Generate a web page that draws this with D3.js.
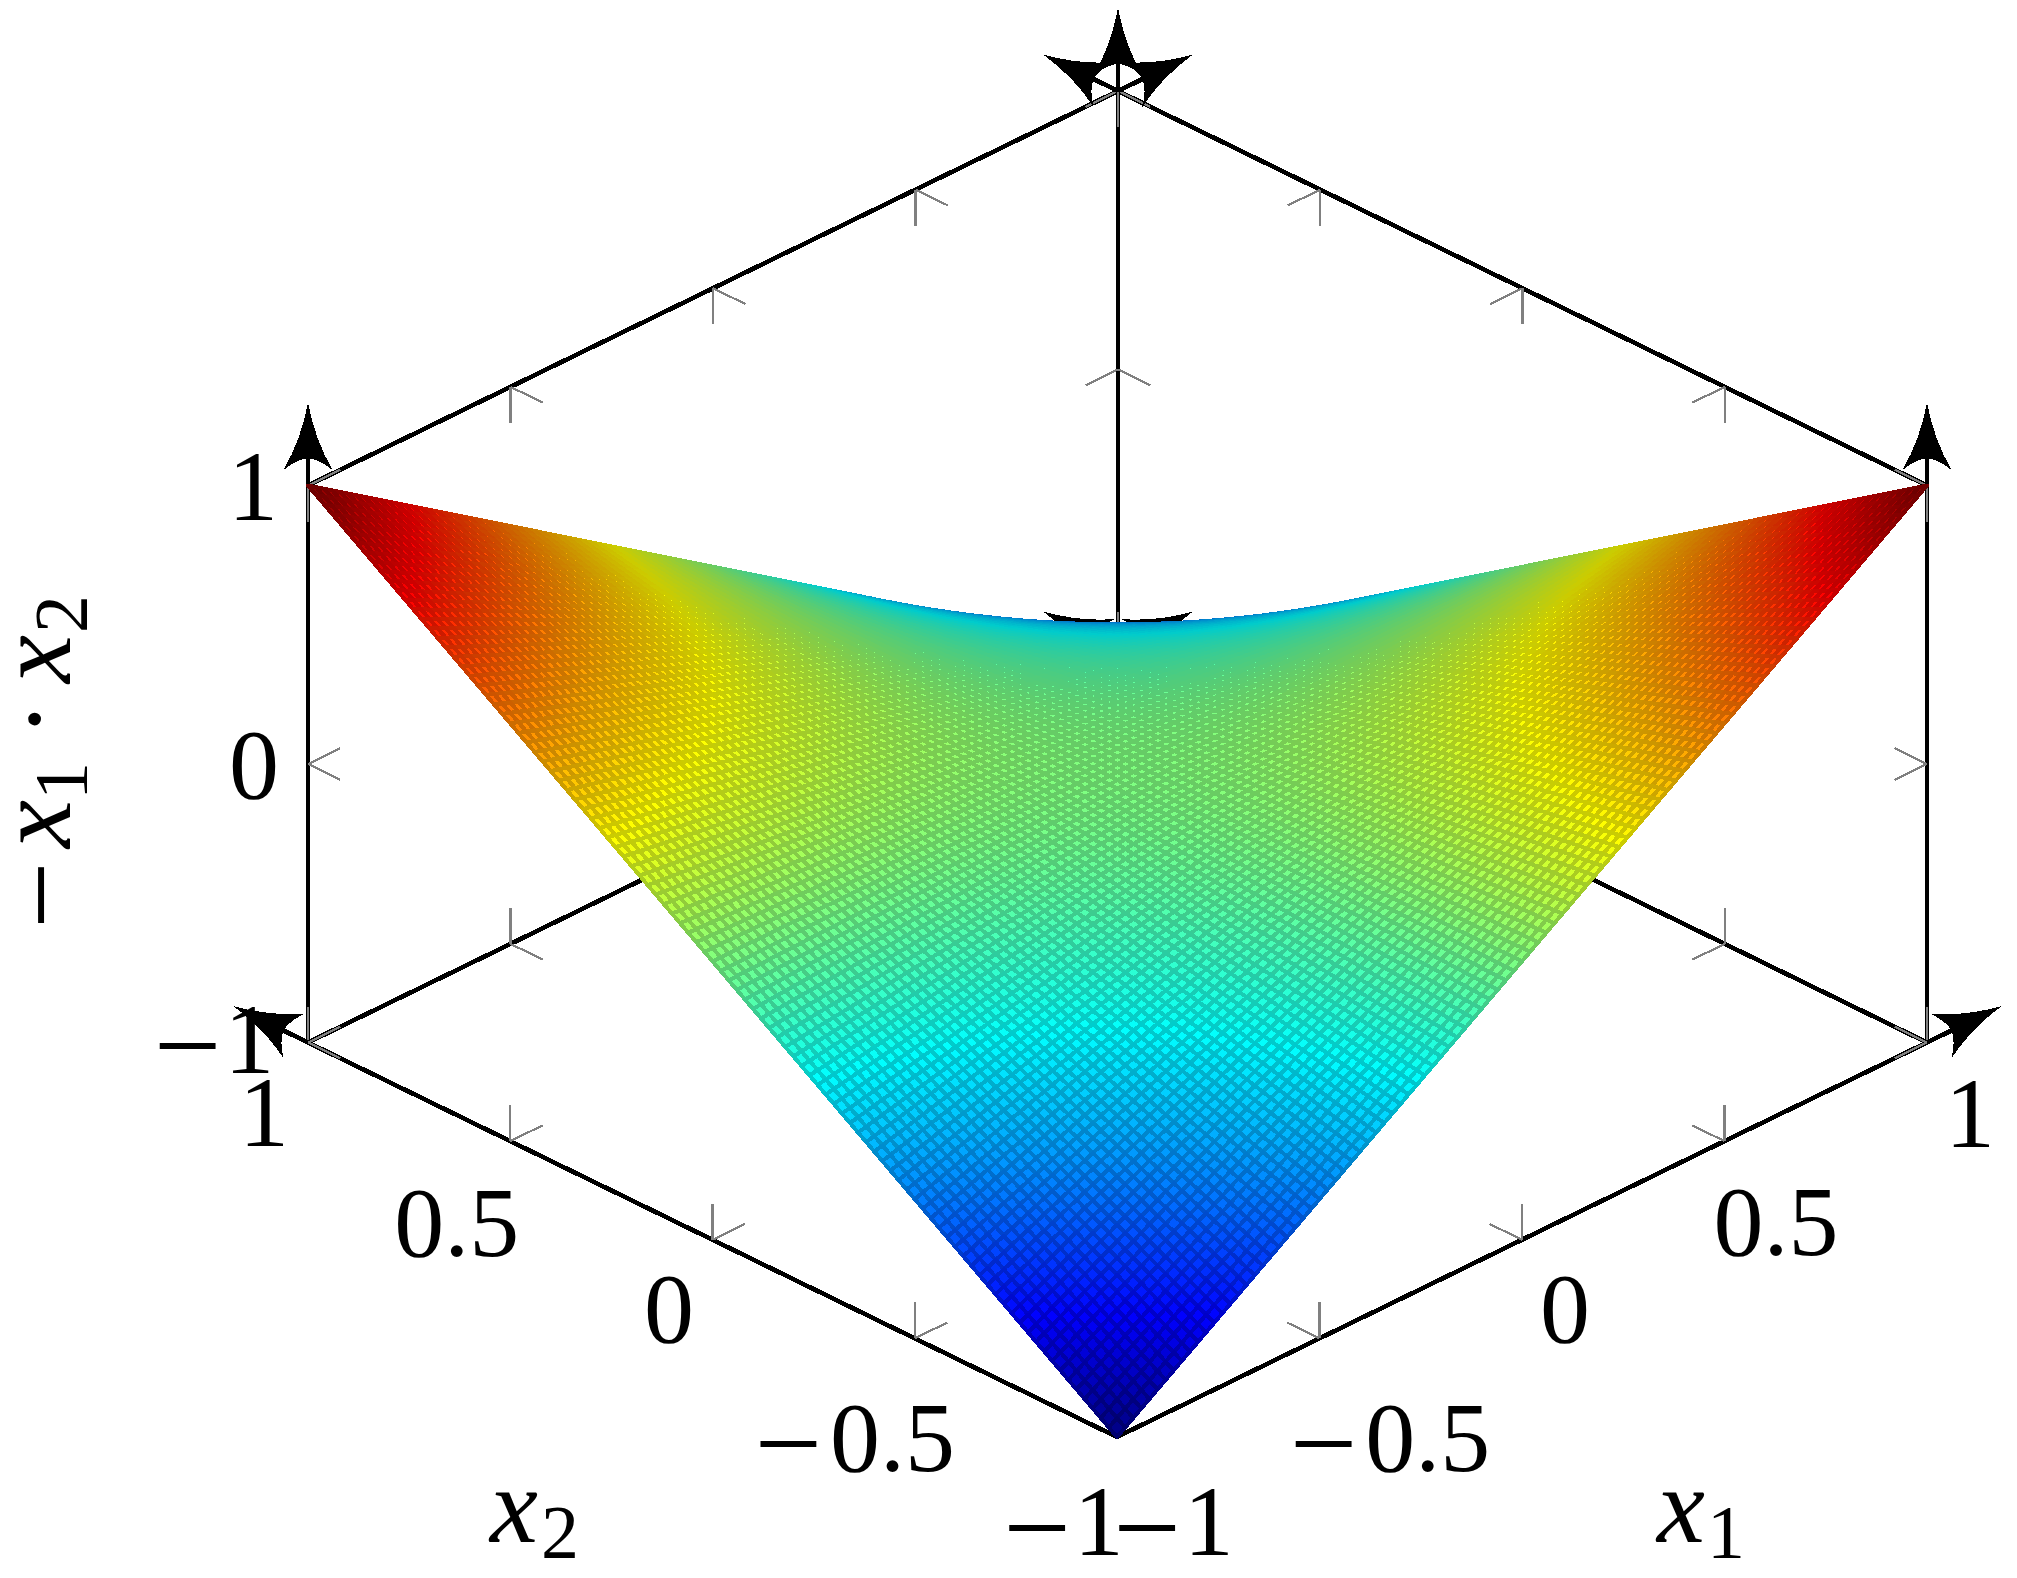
<!DOCTYPE html>
<html>
<head>
<meta charset="utf-8">
<script src="https://cdnjs.cloudflare.com/ajax/libs/d3/7.8.5/d3.min.js"></script>
<style>
html,body{margin:0;padding:0;background:#fff;}
svg{display:block;}
text{font-family:"Liberation Serif",serif;fill:#000;}
</style>
</head>
<body>
<script>
// Sample positions of the plotted surface on each axis (101 samples).
const gridSamples = [-1,-0.98,-0.96,-0.94,-0.92,-0.9,-0.88,-0.86,-0.84,-0.82,-0.8,-0.78,-0.76,-0.74,-0.72,-0.7,-0.68,-0.66,-0.64,-0.62,-0.6,-0.58,-0.56,-0.54,-0.52,-0.5,-0.48,-0.46,-0.44,-0.42,-0.4,-0.38,-0.36,-0.34,-0.32,-0.3,-0.28,-0.26,-0.24,-0.22,-0.2,-0.18,-0.16,-0.14,-0.12,-0.1,-0.08,-0.06,-0.04,-0.02,0,0.02,0.04,0.06,0.08,0.1,0.12,0.14,0.16,0.18,0.2,0.22,0.24,0.26,0.28,0.3,0.32,0.34,0.36,0.38,0.4,0.42,0.44,0.46,0.48,0.5,0.52,0.54,0.56,0.58,0.6,0.62,0.64,0.66,0.68,0.7,0.72,0.74,0.76,0.78,0.8,0.82,0.84,0.86,0.88,0.9,0.92,0.94,0.96,0.98,1];
const x1Ticks = [-1,-0.5,0,0.5,1];
const x2Ticks = [-1,-0.5,0,0.5,1];
const zTicks = [-1,0,1];
const x1Labels = ["\u22121","\u22120.5","0","0.5","1"];
const x2Labels = ["\u22121","\u22120.5","0","0.5","1"];
const zLabels = ["\u22121","0","1"];
const jetStops = [-1,-0.75,-0.25,0.25,0.75,1];
const jetColors = ["#000080","#0000ff","#00ffff","#ffff00","#ff0000","#800000"];
// The surface is the function named by the vertical axis title, -x1*x2.
const surfaceZ = (a,b) => -a*b;

// layout
const W=2017,H=1578, ox=1117, oy=1437;
const x1LabelNudge=[[56.5,118],[70.5,133],[43,102.5],[51.5,114],[43,104.5]];
const x2LabelNudge=[[-53.5,118],[-60,133],[-43.5,102.5],[-53.5,115],[-44,103.5]];
const zLabelNudge=[[-94,30],[-54,34],[-55,34]];

const sx1=d3.scaleLinear([-1,1],[0,810]), sy1=d3.scaleLinear([-1,1],[0,-394.5]);
const sx2=d3.scaleLinear([-1,1],[0,-809]), sy2=d3.scaleLinear([-1,1],[0,-394.5]);
const syz=d3.scaleLinear([-1,1],[0,-557]);
const P=(a,b,c)=>[ox+sx1(a)+sx2(b), oy+sy1(a)+sy2(b)+syz(c)];
const jet=d3.scaleLinear(jetStops,jetColors).interpolate(d3.interpolateRgb);

const svg=d3.select("body").append("svg").attr("width",W).attr("height",H).attr("viewBox",`0 0 ${W} ${H}`);
svg.append("rect").attr("width",W).attr("height",H).attr("fill","#fff");

const unit=(p,q)=>{const dx=q[0]-p[0],dy=q[1]-p[1],l=Math.hypot(dx,dy);return [dx/l,dy/l];};
const dirX1=unit(P(-1,-1,-1),P(1,-1,-1)), dirX2=unit(P(-1,-1,-1),P(-1,1,-1)), dirZ=[0,-1];
const neg=d=>[-d[0],-d[1]];

// box edges
const edges=[
 [[-1,-1,-1],[1,-1,-1]],[[-1,-1,-1],[-1,1,-1]],
 [[-1,1,-1],[1,1,-1]],[[1,-1,-1],[1,1,-1]],
 [[-1,1,1],[1,1,1]],[[1,-1,1],[1,1,1]],
 [[-1,1,-1],[-1,1,1]],[[1,-1,-1],[1,-1,1]],[[1,1,-1],[1,1,1]]
];
const gAxis=svg.append("g").attr("shape-rendering","crispEdges");
gAxis.selectAll("line.edge").data(edges).join("line").attr("class","edge")
 .attr("x1",d=>P(...d[0])[0]).attr("y1",d=>P(...d[0])[1])
 .attr("x2",d=>P(...d[1])[0]).attr("y2",d=>P(...d[1])[1])
 .attr("stroke","#000").attr("stroke-width",4.6);

// ticks: every tick has two grey strokes running into the box
const tickLen=36, ticks=[];
const addTick=(p,d1,d2)=>{ticks.push({p,d:d1});ticks.push({p,d:d2});};
x1Ticks.forEach(t=>{
  if(t!==-1) addTick(P(t,-1,-1),dirZ,dirX2);
  addTick(P(t,1,-1),dirZ,neg(dirX2));
  addTick(P(t,1,1),neg(dirZ),neg(dirX2));
});
x2Ticks.forEach(t=>{
  if(t!==-1) addTick(P(-1,t,-1),dirZ,dirX1);
  addTick(P(1,t,-1),dirZ,neg(dirX1));
  addTick(P(1,t,1),neg(dirZ),neg(dirX1));
});
zTicks.forEach(t=>{
  addTick(P(-1,1,t),dirX1,neg(dirX2));
  addTick(P(1,-1,t),neg(dirX1),dirX2);
  addTick(P(1,1,t),neg(dirX1),neg(dirX2));
});
gAxis.selectAll("line.tick").data(ticks).join("line").attr("class","tick")
 .attr("x1",d=>d.p[0]).attr("y1",d=>d.p[1])
 .attr("x2",d=>d.p[0]+d.d[0]*tickLen).attr("y2",d=>d.p[1]+d.d[1]*tickLen)
 .attr("stroke","#808080").attr("stroke-width",2.2);

// arrowheads
const arrows=[
 {at:[-1,1,1],d:dirZ},{at:[1,-1,1],d:dirZ},{at:[1,1,1],d:dirZ},
 {at:[1,-1,-1],d:dirX1},{at:[1,1,-1],d:dirX1},{at:[1,1,1],d:dirX1},
 {at:[-1,1,-1],d:dirX2},{at:[1,1,-1],d:dirX2},{at:[1,1,1],d:dirX2}
];
const arrowReach=83, arrowPath="M0,0Q-38,7 -68,25Q-57,12 -55.7,0Q-57,-12 -68,-25Q-38,-7 0,0Z";
const gArrow=svg.append("g").attr("shape-rendering","crispEdges");
gArrow.selectAll("line").data(arrows).join("line")
 .attr("x1",d=>P(...d.at)[0]).attr("y1",d=>P(...d.at)[1])
 .attr("x2",d=>P(...d.at)[0]+d.d[0]*(arrowReach-50)).attr("y2",d=>P(...d.at)[1]+d.d[1]*(arrowReach-50))
 .attr("stroke","#000").attr("stroke-width",4.6);
gArrow.selectAll("path").data(arrows).join("path")
 .attr("d",arrowPath).attr("fill","#000")
 .attr("transform",d=>{const p=P(...d.at);return `translate(${p[0]+d.d[0]*arrowReach},${p[1]+d.d[1]*arrowReach}) rotate(${Math.atan2(d.d[1],d.d[0])*180/Math.PI})`;});

// surface, painted from the far corner to the near one
const cells=[];
for(let i=gridSamples.length-2;i>=0;i--){
  for(let j=gridSamples.length-2;j>=0;j--){
    const a0=gridSamples[i],a1=gridSamples[i+1],b0=gridSamples[j],b1=gridSamples[j+1];
    const zs=[surfaceZ(a0,b0),surfaceZ(a1,b0),surfaceZ(a1,b1),surfaceZ(a0,b1)];
    cells.push({pts:[P(a0,b0,zs[0]),P(a1,b0,zs[1]),P(a1,b1,zs[2]),P(a0,b1,zs[3])],z:d3.mean(zs)});
  }
}
svg.append("g").attr("shape-rendering","crispEdges").attr("stroke-width",4).attr("stroke-linejoin","round")
 .selectAll("polygon").data(cells).join("polygon")
 .attr("points",d=>d.pts.map(p=>p[0].toFixed(2)+","+p[1].toFixed(2)).join(" "))
 .attr("fill",d=>jet(d.z))
 .attr("stroke",d=>{const c=d3.rgb(jet(d.z));return d3.rgb(c.r*0.8,c.g*0.8,c.b*0.8).formatHex();});

// tick labels: the minus sign is set larger and lower to match the reference's math minus
const gText=svg.append("g").attr("text-anchor","middle").attr("font-size",100);
const tickLabel=(list)=>gText.append("g").selectAll("text").data(list).join("text")
 .attr("x",d=>d.p[0]+d.n[0]).attr("y",d=>d.p[1]+d.n[1])
 .each(function(d){
   const t=d3.select(this), isNeg=d.s.startsWith("\u2212");
   if(isNeg){
     t.append("tspan").attr("font-size",120).attr("dy",13).text("\u2212");
     t.append("tspan").attr("dy",-13).attr("dx",d.s.length>2?8:3).text(d.s.slice(1));
   } else t.text(d.s);
 });
tickLabel(x1Ticks.map((t,i)=>({p:P(t,-1,-1),n:x1LabelNudge[i],s:x1Labels[i]})));
tickLabel(x2Ticks.map((t,i)=>({p:P(-1,t,-1),n:x2LabelNudge[i],s:x2Labels[i]})));
tickLabel(zTicks.map((t,i)=>({p:P(-1,1,t),n:zLabelNudge[i],s:zLabels[i]})));

// axis titles
const title=(g,parts)=>{
  const t=g.append("text");
  parts.forEach(q=>t.append("tspan").attr("x",q.x).attr("y",q.y).attr("font-size",q.fs)
    .attr("font-style",q.it?"italic":"normal").text(q.s));
};
title(svg.append("g"),[{s:"x",x:1657,y:1542,fs:108,it:true},{s:"1",x:1707,y:1558,fs:76}]);
title(svg.append("g"),[{s:"x",x:490,y:1542,fs:108,it:true},{s:"2",x:541,y:1558,fs:76}]);
title(svg.append("g").attr("transform","translate(70,925) rotate(-90)"),[
  {s:"\u2212",x:-4,y:11,fs:120},
  {s:"x",x:77,y:0,fs:108,it:true},
  {s:"1",x:125,y:17,fs:76},
  {s:"\u00b7",x:188,y:0,fs:108},
  {s:"x",x:242,y:0,fs:108,it:true},
  {s:"2",x:292,y:17,fs:76}
]);
</script>
</body>
</html>
